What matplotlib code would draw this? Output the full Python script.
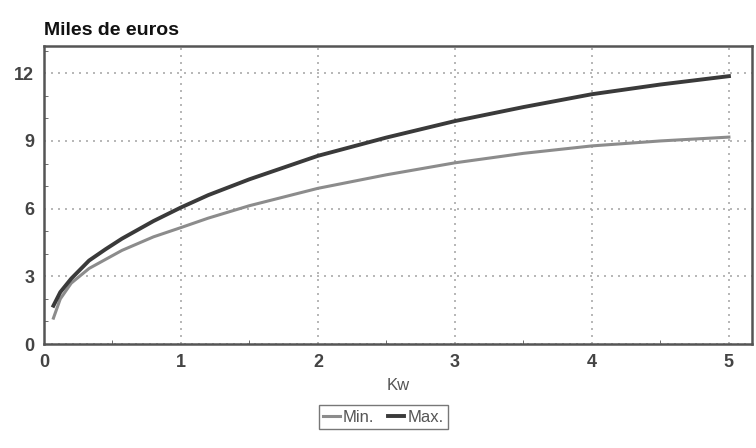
import matplotlib.pyplot as plt
import numpy as np

# potencia (Kw) y coste en miles de euros
kw = [0.07, 0.12, 0.2, 0.33, 0.45, 0.57, 0.8, 1.0, 1.2, 1.5, 2.0, 2.5, 3.0, 3.5, 4.0, 4.5, 5.0]
coste_max = [1.7, 2.3, 2.9, 3.7, 4.2, 4.67, 5.45, 6.05, 6.6, 7.3, 8.34, 9.15, 9.88, 10.5, 11.07, 11.5, 11.87]
coste_min = [1.15, 2.0, 2.7, 3.35, 3.75, 4.15, 4.75, 5.16, 5.58, 6.13, 6.9, 7.5, 8.03, 8.45, 8.78, 9.0, 9.17]

xticks = [0, 1, 2, 3, 4, 5]
yticks = [0, 3, 6, 9, 12]

plt.rcParams["font.family"] = ["Liberation Sans", "DejaVu Sans"]

fig = plt.figure(figsize=(7.56, 4.48), dpi=100)
ax = fig.add_axes([0.058, 0.232, 0.937, 0.665])

ax.plot(kw, coste_min, color="#8c8c8c", lw=2.2, label="Min.")
ax.plot(kw, coste_max, color="#3a3a3a", lw=2.8, label="Max.")

ax.set_xlim(0, 5.17)
ax.set_ylim(0, 13.2)
ax.set_xticks(xticks)
ax.set_yticks(yticks)
ax.set_xticks(np.arange(0.5, 5.1, 1.0), minor=True)
ax.set_yticks(np.arange(0, 13.1, 1), minor=True)
ax.tick_params(which="both", direction="in", colors="#555555", labelsize=13)
ax.tick_params(which="major", length=0, pad=7)
ax.tick_params(which="minor", length=3)
for lab in ax.get_xticklabels() + ax.get_yticklabels():
    lab.set_fontweight("bold")
    lab.set_color("#444444")

ax.grid(True, which="major", linestyle=(0, (1.2, 3)), color="#aaaaaa", lw=1.2)
for s in ax.spines.values():
    s.set_color("#555555")
    s.set_linewidth(1.8)

ax.set_xlabel("Kw", color="#555555", fontsize=12, labelpad=5)
fig.text(0.058, 0.922, "Miles de euros", fontsize=14, fontweight="bold", color="#111111")

leg = fig.legend(loc="center", bbox_to_anchor=(0.507, 0.069), ncol=2, fontsize=12,
                 handlelength=1.0, handletextpad=0.2, columnspacing=0.8,
                 fancybox=False, edgecolor="#555555", borderpad=0.25)
for t in leg.get_texts():
    t.set_color("#555555")

plt.savefig("out.png", dpi=100)
